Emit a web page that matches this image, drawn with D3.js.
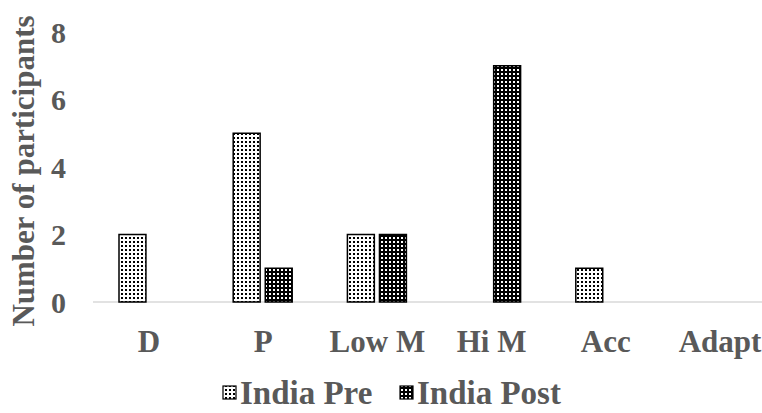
<!DOCTYPE html>
<html><head><meta charset="utf-8">
<script src="https://cdn.jsdelivr.net/npm/d3@7"></script>
<style>body{margin:0;background:#fff}svg{display:block}</style>
</head><body>
<svg id="c" width="762" height="413"></svg>
<script>
const categories = ["D", "P", "Low M", "Hi M", "Acc", "Adapt"];
const seriesNames = ["India Pre", "India Post"];
const indiaPre  = [2, 5, 2, 0, 1, 0];
const indiaPost = [0, 1, 2, 7, 0, 0];
const yTicks = [0, 2, 4, 6, 8];
const yTitle = "Number of participants";

const svg = d3.select("#c");
const textColor = "#595959";
const font = "'Liberation Serif','Times New Roman',serif";

const defs = svg.append("defs");
const p1 = defs.append("pattern").attr("id","patPre").attr("patternUnits","userSpaceOnUse").attr("width",4).attr("height",4);
p1.append("rect").attr("width",4).attr("height",4).attr("fill","#fff");
p1.append("rect").attr("x",1).attr("y",1).attr("width",2).attr("height",2).attr("fill","#000");
const p2 = defs.append("pattern").attr("id","patPost").attr("patternUnits","userSpaceOnUse").attr("width",4).attr("height",4);
p2.append("rect").attr("width",4).attr("height",4).attr("fill","#000");
p2.append("rect").attr("x",1).attr("y",1).attr("width",2).attr("height",2).attr("fill","#fff");
const fills = {"India Pre":"url(#patPre)","India Post":"url(#patPost)"};

const y = d3.scaleLinear().domain([0, 8]).range([302, 32]);
const x0 = d3.scalePoint().domain(categories).range([148.5, 719.5]);
const x1 = d3.scaleBand().domain(seriesNames).range([-29.5, 29.5]).paddingInner(0.16);

// baseline
svg.append("line").attr("x1",93).attr("x2",778).attr("y1",y(0)).attr("y2",y(0))
  .attr("stroke","#d9d9d9").attr("stroke-width",1.5);

// y tick labels
const yAxis = d3.axisLeft(y).tickValues(yTicks).tickSize(0).tickPadding(0);
const yg = svg.append("g").attr("transform","translate(66,0)").call(yAxis);
yg.select(".domain").remove();
yg.selectAll("text").attr("font-family",font).attr("font-weight","bold")
  .attr("font-size",30).attr("fill",textColor).attr("dy","0.34em");

// x category labels
const xAxis = d3.axisBottom(x0).tickSize(0).tickPadding(0);
const xg = svg.append("g").attr("transform","translate(0,352)").call(xAxis);
xg.select(".domain").remove();
xg.selectAll("text").attr("font-family",font).attr("font-weight","bold")
  .attr("font-size",31).attr("fill",textColor).attr("dy",0);

// bars
const data = seriesNames.map((s,i)=>({s, vals: i===0?indiaPre:indiaPost}));
data.forEach(d=>{
  svg.append("g").selectAll("rect")
    .data(categories.map((c,j)=>({c, v:d.vals[j]})).filter(e=>e.v>0))
    .join("rect")
    .attr("x", e=>x0(e.c)+x1(d.s))
    .attr("width", x1.bandwidth())
    .attr("y", e=>y(e.v))
    .attr("height", e=>y(0)-y(e.v))
    .attr("fill", fills[d.s])
    .attr("stroke","#000").attr("stroke-width",1.5);
});

// y title
svg.append("text").attr("transform","translate(34,171) rotate(-90)")
  .attr("text-anchor","middle").attr("font-family",font).attr("font-weight","bold")
  .attr("font-size",31).attr("fill",textColor).text(yTitle);

// legend
const legX = [223, 400];
seriesNames.forEach((s,i)=>{
  svg.append("rect").attr("x",legX[i]).attr("y",386).attr("width",13).attr("height",13)
    .attr("fill",fills[s]).attr("stroke","#000").attr("stroke-width",1.2);
  svg.append("text").attr("x",legX[i]+17).attr("y",404).attr("font-family",font)
    .attr("font-weight","bold").attr("font-size",33).attr("fill",textColor).text(s);
});
</script>
</body></html>
